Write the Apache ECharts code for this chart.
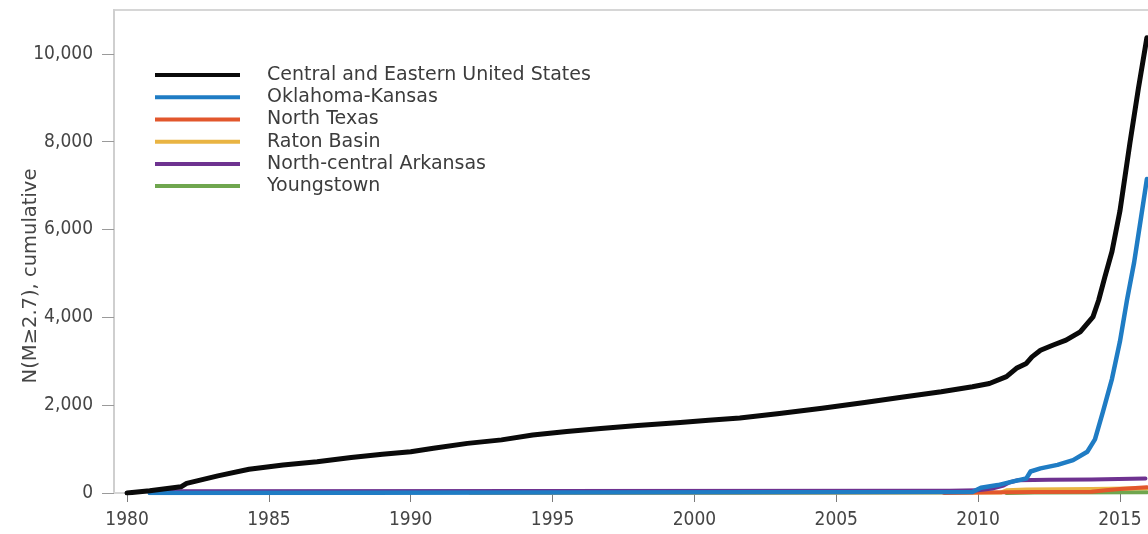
<!DOCTYPE html>
<html>
<head>
<meta charset="utf-8">
<script src="https://cdn.jsdelivr.net/npm/echarts@6/dist/echarts.min.js"></script>
<style>
  html, body { margin: 0; padding: 0; background: #ffffff; }
  #chart { width: 1148px; height: 534px; }
</style>
</head>
<body>
<div id="chart"></div>
<script>
// Cumulative counts of M>=2.7 earthquakes, by region
const seriesNames = [
  'Central and Eastern United States',
  'Oklahoma-Kansas',
  'North Texas',
  'Raton Basin',
  'North-central Arkansas',
  'Youngstown'
];

const ceusYears = [1980.0, 1980.8, 1981.9, 1982.1, 1983.2, 1984.3, 1985.5, 1986.7, 1987.9, 1989.0,
  1990.0, 1990.8, 1992.0, 1993.2, 1994.3, 1995.5, 1996.7, 1998.0, 1999.5, 2000.5,
  2001.6, 2003.0, 2004.5, 2006.0, 2007.3, 2008.7, 2009.8, 2010.4, 2011.0, 2011.35,
  2011.7, 2011.9, 2012.2, 2012.65, 2013.1, 2013.6, 2014.05, 2014.25, 2014.47, 2014.72,
  2015.0, 2015.35, 2015.65, 2015.95];
const ceusCounts = [0, 50, 140, 220, 390, 540, 640, 710, 810, 880,
  940, 1020, 1130, 1210, 1320, 1400, 1470, 1535, 1605, 1655,
  1710, 1810, 1930, 2060, 2180, 2305, 2420, 2495, 2650, 2840,
  2950, 3100, 3250, 3370, 3480, 3670, 4010, 4390, 4920, 5500,
  6420, 7960, 9210, 10370];

const okksYears = [1980.8, 2009.8, 2010.1, 2010.7, 2011.2, 2011.7, 2011.85, 2012.2, 2012.8, 2013.35,
  2013.85, 2014.12, 2014.4, 2014.72, 2015.0, 2015.25, 2015.5, 2015.75, 2015.95];
const okksCounts = [0, 20, 120, 180, 260, 330, 490, 560, 640, 750,
  940, 1220, 1850, 2600, 3450, 4400, 5250, 6300, 7150];

const ntxYears = [2008.8, 2010.0, 2012.0, 2014.0, 2014.5, 2015.0, 2015.95];
const ntxCounts = [0, 10, 20, 30, 60, 90, 130];

const ratonYears = [1992.1, 2001.0, 2010.8, 2011.0, 2011.7, 2014.0, 2015.95];
const ratonCounts = [0, 0, 10, 60, 80, 90, 110];

const arkYears = [1980.8, 2009.0, 2010.0, 2010.5, 2010.9, 2011.1, 2011.4, 2012.5, 2014.0, 2015.9];
const arkCounts = [40, 50, 60, 100, 170, 240, 290, 300, 310, 330];

const ytownYears = [2011.0, 2012.0, 2015.95];
const ytownCounts = [0, 10, 15];

const yearTicks = [1980, 1985, 1990, 1995, 2000, 2005, 2010, 2015];

const colors = ['#0a0a0a', '#1f7cc4', '#e2572c', '#e9b443', '#6e3290', '#6fa64f'];

function pairs(xs, ys) {
  return xs.map((x, i) => [x, ys[i]]);
}

const seriesData = [
  pairs(ceusYears, ceusCounts),
  pairs(okksYears, okksCounts),
  pairs(ntxYears, ntxCounts),
  pairs(ratonYears, ratonCounts),
  pairs(arkYears, arkCounts),
  pairs(ytownYears, ytownCounts)
];
const drawOrder = [6, 5, 3, 2, 4, 1];
const widths = [5, 4.5, 4, 4, 4, 4];

const tickFont = '"DejaVu Sans Condensed", "DejaVu Sans", sans-serif';
const textFont = '"DejaVu Sans", sans-serif';

const chart = echarts.init(document.getElementById('chart'), null, { renderer: 'canvas' });

chart.setOption({
  animation: false,
  backgroundColor: '#ffffff',
  color: colors,
  grid: {
    left: 114, right: -2, top: 10, bottom: 41,
    containLabel: false,
    outerBoundsMode: 'none',
    show: true, borderColor: '#d6d6d6', borderWidth: 2
  },
  legend: {
    orient: 'vertical',
    left: 155,
    top: 64,
    padding: 0,
    icon: 'rect',
    itemWidth: 85,
    itemHeight: 4,
    itemGap: 0,
    selectedMode: false,
    data: seriesNames,
    textStyle: {
      fontFamily: textFont,
      fontSize: 19,
      lineHeight: 22.2,
      color: '#3c3c3c',
      padding: [0, 0, 0, 22]
    }
  },
  xAxis: {
    type: 'value',
    min: 1979.54,
    max: 2016.06,
    axisLine: { show: true, onZero: false, lineStyle: { color: '#d6d6d6', width: 2 } },
    axisTick: {
      show: true, length: 9, inside: false,
      customValues: yearTicks,
      lineStyle: { color: '#7a7a7a', width: 1 }
    },
    axisLabel: {
      customValues: yearTicks,
      margin: 18,
      fontFamily: tickFont,
      fontSize: 19,
      color: '#454545',
      formatter: v => String(v)
    },
    splitLine: { show: false }
  },
  yAxis: {
    type: 'value',
    min: 0,
    max: 11000,
    interval: 2000,
    name: 'N(M\u22652.7), cumulative',
    nameLocation: 'middle',
    nameGap: 73,
    nameMoveOverlap: false,
    nameRotate: 90,
    nameTextStyle: {
      fontFamily: textFont,
      fontSize: 19.5,
      color: '#454545',
      padding: [0, 49, 0, 0]
    },
    axisLine: { show: true, lineStyle: { color: '#cfcfcf', width: 2 } },
    axisTick: { show: true, length: 12, lineStyle: { color: '#9a9a9a', width: 1 } },
    axisLabel: {
      showMaxLabel: false,
      margin: 21,
      fontFamily: tickFont,
      fontSize: 19,
      color: '#454545',
      formatter: v => v.toLocaleString('en-US')
    },
    splitLine: { show: false }
  },
  series: seriesNames.map((name, i) => ({
    name: name,
    type: 'line',
    data: seriesData[i],
    showSymbol: false,
    symbol: 'none',
    z: drawOrder[i],
    lineStyle: { color: colors[i], width: widths[i], cap: 'round', join: 'round' },
    itemStyle: { color: colors[i] }
  }))
});
</script>
</body>
</html>
